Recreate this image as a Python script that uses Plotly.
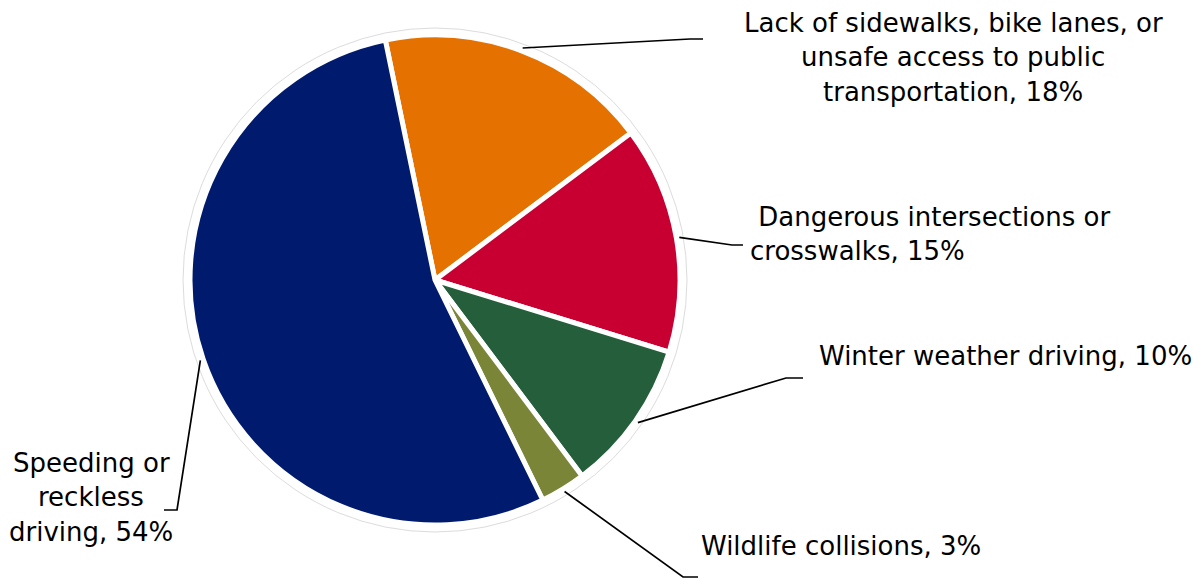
import math
import plotly.graph_objects as go

# ---- data ----
categories = [
    "Lack of sidewalks, bike lanes, or unsafe access to public transportation",
    "Dangerous intersections or crosswalks",
    "Winter weather driving",
    "Wildlife collisions",
    "Speeding or reckless driving",
]
values = [18, 15, 10, 3, 54]
label_lines = [
    ["Lack of sidewalks, bike lanes, or", "unsafe access to public", "transportation, 18%"],
    ["\u00a0Dangerous intersections or", "crosswalks, 15%"],
    ["Winter weather driving, 10%"],
    ["Wildlife collisions, 3%"],
    ["Speeding or", "reckless", "driving, 54%"],
]
colors = ["#E57200", "#C80032", "#245E3A", "#7A8538", "#001A6E"]

# ---- layout constants (pixels) ----
W, H = 1199, 579
CX, CY, R = 435, 280, 245
ROT = -11.7
LINE_H = 34.5
FONT = dict(family="DejaVu Sans", size=26, color="#000000")

# label placement: (x, y of block centre, xanchor)
label_pos = [
    (953, 57, "center"),
    (748, 234, "left"),
    (1005, 356, "center"),
    (841, 546, "center"),
    (91, 497, "center"),
]
elbows = [(690, 39), (732, 245), (786, 378), (683, 577), (177, 510)]
ends = [(703, 39), (743, 245), (803, 378), (698, 577), (164, 510)]


def px(x):
    return x / W


def py(y):
    return 1 - y / H


fig = go.Figure(
    go.Pie(
        labels=categories,
        values=values,
        sort=False,
        direction="clockwise",
        rotation=ROT,
        marker=dict(colors=colors, line=dict(color="white", width=5)),
        textinfo="none",
        hoverinfo="label+percent",
        domain=dict(x=[px(CX - R), px(CX + R)], y=[py(CY + R), py(CY - R)]),
        showlegend=False,
    )
)

shapes = []
# faint outer ring
shapes.append(dict(type="circle", xref="paper", yref="paper",
                   x0=px(CX - 252), x1=px(CX + 252), y0=py(CY + 252), y1=py(CY - 252),
                   line=dict(color="#dcdcdc", width=1), layer="below"))

annotations = []
total = sum(values)
cum = 0
for i, v in enumerate(values):
    mid = ROT + 360 * (cum + v / 2) / total
    cum += v
    a = math.radians(mid)
    sx = CX + (R + 3) * math.sin(a)
    sy = CY - (R + 3) * math.cos(a)
    ex, ey = elbows[i]
    fx, fy = ends[i]
    path = f"M {px(sx)} {py(sy)} L {px(ex)} {py(ey)} L {px(fx)} {py(fy)}"
    shapes.append(dict(type="path", xref="paper", yref="paper", path=path,
                       line=dict(color="black", width=1.7)))
    lx, ly, xa = label_pos[i]
    lines = label_lines[i]
    n = len(lines)
    for k, t in enumerate(lines):
        yk = ly + (k - (n - 1) / 2) * LINE_H
        annotations.append(dict(x=px(lx), y=py(yk), xref="paper", yref="paper",
                                text=t, showarrow=False,
                                xanchor=xa, yanchor="middle",
                                font=FONT))

fig.update_layout(
    width=W, height=H,
    margin=dict(l=0, r=0, t=0, b=0),
    paper_bgcolor="white",
    plot_bgcolor="white",
    shapes=shapes,
    annotations=annotations,
)

fig.write_html("out.html", config={"displayModeBar": False},
               post_script="document.body.style.margin='0';")
